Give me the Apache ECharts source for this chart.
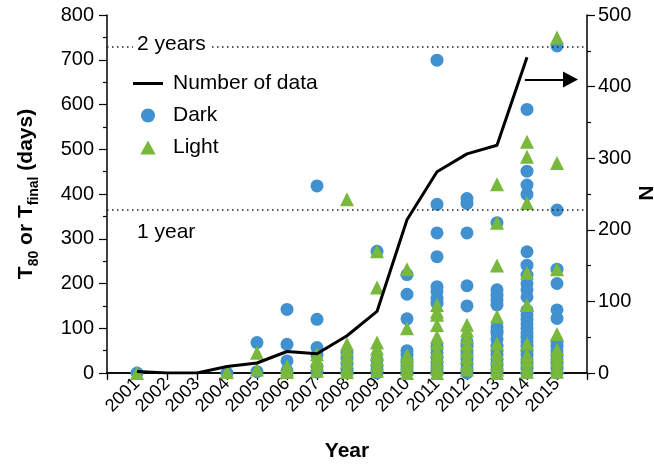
<!DOCTYPE html>
<html>
<head>
<meta charset="utf-8">
<script src="https://cdn.jsdelivr.net/npm/echarts@6/dist/echarts.min.js"></script>
<style>html,body{margin:0;padding:0;background:#fff}#c{width:654px;height:465px}</style>
</head>
<body>
<div id="c"></div>
<script>
// ---- data ----
var years = [2001, 2002, 2003, 2004, 2005, 2006, 2007, 2008, 2009, 2010, 2011, 2012, 2013, 2014, 2015];
var xTickLabels = ['2001','2002','2003','2004','2005','2006','2007','2008','2009','2010','2011','2012','2013','2014','2015'];
var numberOfData = [2, 0, 0, 9, 14, 30, 27, 52, 86, 214, 281, 306, 318, 441];
var darkValues = [
  [0], [], [], [0],
  [68, 3],
  [142, 64, 27, 5],
  [418, 120, 57, 40, 14, 2],
  [45, 32, 20, 8, 0],
  [272, 30, 18, 8, 0],
  [220, 176, 121, 50, 40, 30, 20, 10, 0],
  [699, 377, 313, 260, 193, 182, 167, 156, 59, 45, 35, 25, 15, 5, 0],
  [390, 379, 313, 195, 150, 70, 60, 50, 40, 30, 20, 10, 0],
  [336, 186, 174, 163, 152, 103, 95, 89, 75, 60, 50, 40, 30, 20, 10, 0],
  [589, 451, 420, 399, 271, 241, 219, 200, 186, 170, 140, 130, 120, 110, 100, 90, 80, 70, 60, 50, 40, 30, 20, 10, 0],
  [731, 364, 232, 200, 141, 122, 70, 60, 50, 40, 30, 20, 10, 0]
];
var lightValues = [
  [0], [], [], [2],
  [45, 8],
  [15, 8, 2],
  [42, 30, 20, 5],
  [388, 65, 52, 38, 25, 12, 2],
  [272, 191, 68, 55, 42, 30, 18, 5],
  [232, 100, 40, 30, 20, 10, 0],
  [152, 137, 130, 107, 81, 67, 50, 38, 25, 12, 0],
  [108, 95, 80, 65, 50, 35, 20, 8],
  [422, 336, 240, 126, 66, 45, 32, 20, 8, 0],
  [517, 483, 380, 224, 152, 66, 40, 28, 15, 3],
  [750, 469, 232, 87, 52, 40, 28, 15, 3]
];
var oneYear = 365, twoYears = 730;

function pairs(vals) {
  var out = [];
  vals.forEach(function (arr, i) { arr.forEach(function (v) { out.push([years[i], v]); }); });
  return out;
}
var lineData = numberOfData.map(function (v, i) { return [years[i], v]; });

var FONT = 'Liberation Sans, Arial, Helvetica, sans-serif';
var BLUE = '#4190cf', GREEN = '#78b83c';

var chart = echarts.init(document.getElementById('c'), null, {renderer: 'canvas'});
chart.setOption({
  animation: false,
  textStyle: {fontFamily: FONT, color: '#000'},
  grid: {left: 107, right: 67, top: 15, bottom: 92, containLabel: false, outerBoundsMode: 'none'},
  legend: {
    orient: 'vertical', left: 128, top: 68, itemWidth: 30, itemHeight: 14, itemGap: 11,
    symbolKeepAspect: true,
    textStyle: {fontSize: 21, fontFamily: FONT, color: '#000', padding: [0, 0, 0, 5]},
    data: [
      {name: 'Number of data', icon: 'path://M0,0L30,0L30,3L0,3Z'},
      {name: 'Dark', icon: 'circle'},
      {name: 'Light', icon: 'path://M0,-1L1.1,1L-1.1,1Z'}
    ]
  },
  xAxis: [{
    type: 'value', min: 2000, max: 2016, interval: 1, position: 'bottom',
    name: 'Year', nameLocation: 'middle', nameGap: 68,
    nameTextStyle: {fontSize: 21, fontWeight: 'bold', fontFamily: FONT, color: '#000'},
    axisLine: {lineStyle: {color: '#000', width: 1.5}},
    axisTick: {length: 6, lineStyle: {color: '#000', width: 1.2}},
    splitLine: {show: false},
    axisLabel: {
      rotate: 45, fontSize: 18, color: '#000', fontFamily: FONT, margin: 8, hideOverlap: false,
      formatter: function (v) { var i = years.indexOf(v); return i >= 0 ? xTickLabels[i] : ''; }
    }
  }, {
    type: 'value', min: 2000, max: 2016, interval: 1, position: 'top',
    axisLine: {lineStyle: {color: '#000', width: 1.5}},
    axisTick: {inside: true, length: 7, lineStyle: {color: '#000', width: 1.2}},
    axisLabel: {show: false}, splitLine: {show: false}
  }],
  yAxis: [{
    type: 'value', min: 0, max: 800, interval: 100,
    name: '{n|T}{s|80}{n| or T}{s|final}{n| (days)}', nameLocation: 'middle', nameGap: 70,
    nameTextStyle: {
      fontWeight: 'bold', fontFamily: FONT, color: '#000',
      rich: {
        n: {fontSize: 21, fontWeight: 'bold', fontFamily: FONT, color: '#000', lineHeight: 26, verticalAlign: 'bottom'},
        s: {fontSize: 14, fontWeight: 'bold', fontFamily: FONT, color: '#000', lineHeight: 26, verticalAlign: 'bottom', padding: [0, 0, -4, 0]}
      }
    },
    axisLine: {show: true, lineStyle: {color: '#000', width: 1.5}},
    axisTick: {length: 8, lineStyle: {color: '#000', width: 1.2}},
    minorTick: {show: true, splitNumber: 2, length: 4, lineStyle: {color: '#000', width: 1.2}},
    splitLine: {show: false},
    axisLabel: {fontSize: 20, color: '#000', fontFamily: FONT, margin: 13}
  }, {
    type: 'value', min: 0, max: 500, interval: 100, position: 'right',
    axisLine: {show: true, lineStyle: {color: '#000', width: 1.5}},
    axisTick: {length: 8, lineStyle: {color: '#000', width: 1.2}},
    minorTick: {show: true, splitNumber: 2, length: 4, lineStyle: {color: '#000', width: 1.2}},
    splitLine: {show: false},
    axisLabel: {fontSize: 20, color: '#000', fontFamily: FONT, margin: 11}
  }],
  graphic: [
    {type: 'text', left: 133, top: 34, z: 100,
     style: {text: '2 years', fontSize: 21, fontFamily: FONT, fill: '#000', backgroundColor: '#fff', padding: [0, 5, 0, 4]}},
    {type: 'text', left: 137, top: 222, z: 100,
     style: {text: '1 year', fontSize: 21, fontFamily: FONT, fill: '#000'}},
    {type: 'text', x: 645, y: 193, rotation: -Math.PI / 2, z: 100,
     style: {text: 'N', fontSize: 21, fontWeight: 'bold', fontFamily: FONT, fill: '#000', align: 'center', verticalAlign: 'middle'}}
  ],
  series: [{
    name: 'Dark', type: 'scatter', symbol: 'circle', symbolSize: 13,
    itemStyle: {color: BLUE, opacity: 1}, data: pairs(darkValues), z: 2,
    markLine: {
      silent: true, symbol: ['none', 'none'], label: {show: false},
      lineStyle: {color: '#222', width: 1.5, type: [1.5, 3.5]},
      data: [{yAxis: twoYears}, {yAxis: oneYear}]
    }
  }, {
    name: 'Light', type: 'scatter', symbol: 'triangle', symbolSize: 14,
    itemStyle: {color: GREEN, opacity: 1}, data: pairs(lightValues), z: 3
  }, {
    name: 'Number of data', type: 'line', yAxisIndex: 1, symbol: 'none',
    lineStyle: {color: '#000', width: 3}, itemStyle: {color: '#000'},
    data: lineData, z: 5,
    markLine: {
      silent: true, symbol: ['none', 'triangle'], symbolSize: [16, 15], label: {show: false},
      lineStyle: {color: '#000', width: 2, type: 'solid'},
      data: [[{coord: [2013.93, 410]}, {coord: [2015.45, 410]}]]
    }
  }]
});
</script>
</body>
</html>
